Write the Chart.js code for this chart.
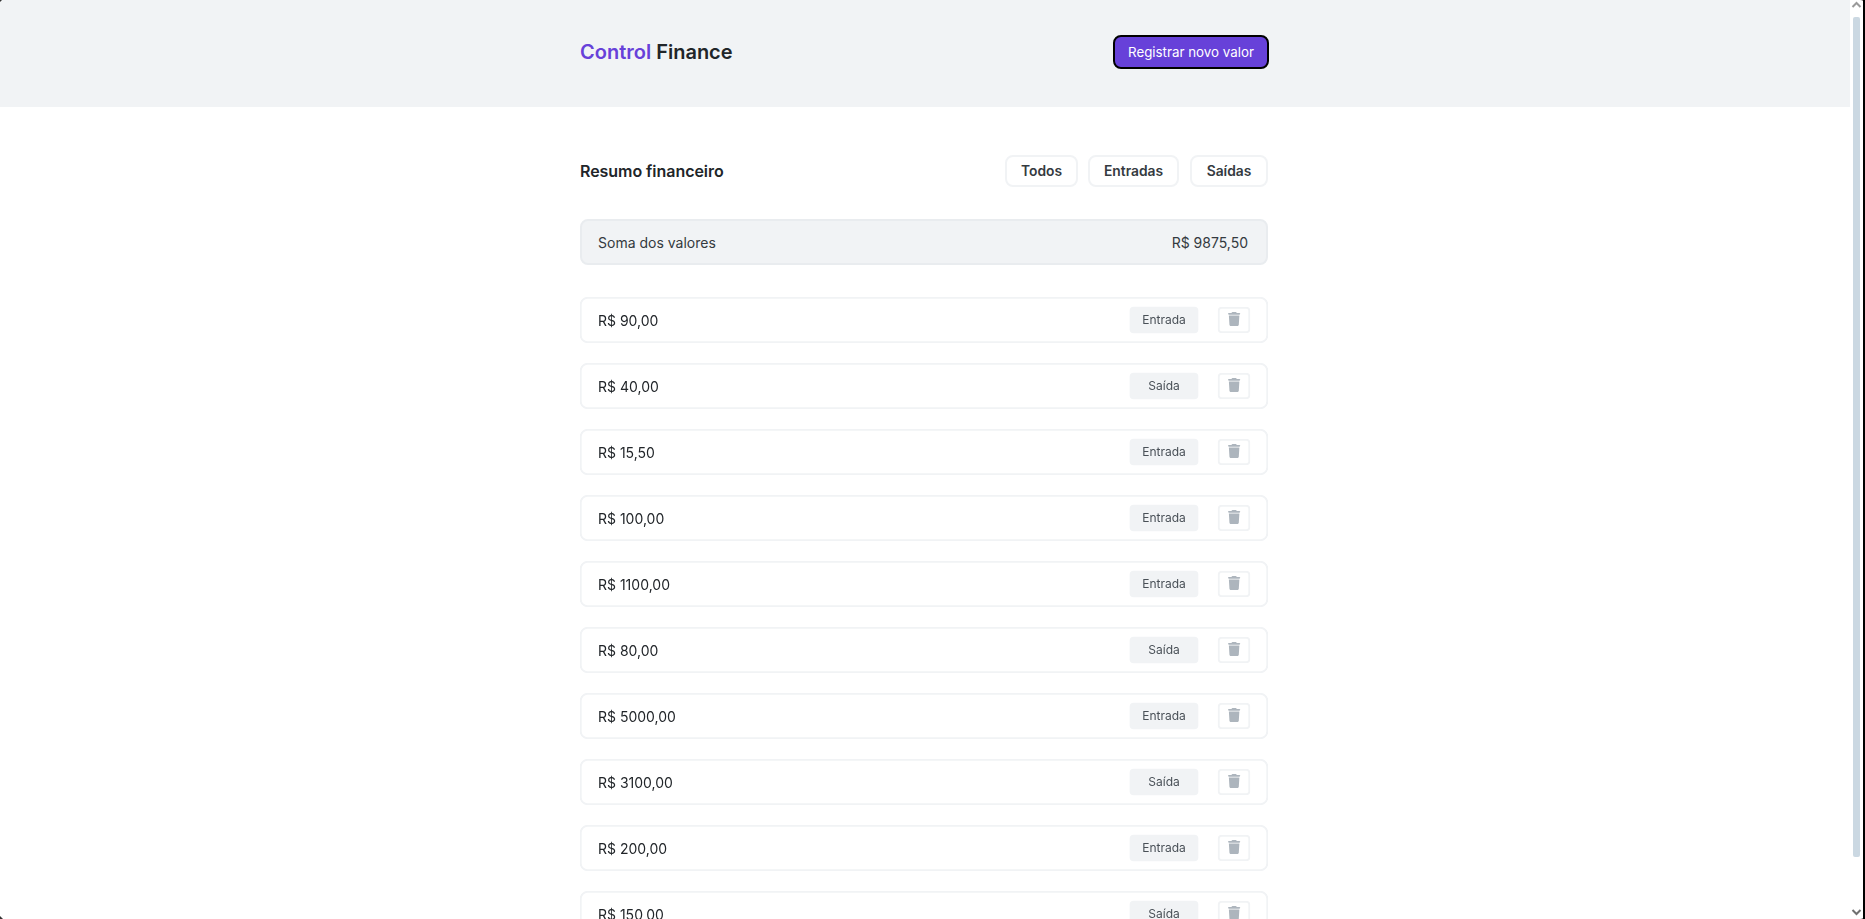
<!DOCTYPE html>
<html lang="pt-BR">
<head>
<meta charset="utf-8">
<title>Control Finance</title>
<script src="https://cdn.jsdelivr.net/npm/chart.js@4"></script>
<style>
  * { box-sizing: border-box; margin: 0; padding: 0; }
  html, body { width: 1865px; height: 919px; overflow: hidden; background: #fff; font-family: Inter, sans-serif; color: #212529; }
  .abs { position: absolute; }
  header { position: absolute; left: 0; top: 0; width: 1850px; height: 107px; background: #f1f3f5; }
  .logo { left: 580px; top: 40px; font-size: 20px; font-weight: 600; line-height: 24px; }
  .logo span { color: #6741d9; }
  .new { left: 1113px; top: 35px; width: 156px; height: 34px; background: #6741d9; border: 2px solid #000; border-radius: 8px; color: #fff; font: 400 13.33px Inter, sans-serif; }
  h2 { left: 580px; top: 161px; font-size: 16px; font-weight: 600; line-height: 20px; color: #212529; letter-spacing: -0.05px; }
  .filter { top: 155px; height: 32px; background: #fff; border: 2px solid #f1f3f5; border-radius: 8px; color: #343a40; font: 600 13.8px Inter, sans-serif; }
  .total { left: 580px; top: 219px; width: 688px; height: 46px; background: #f1f3f5; border: 2px solid #e9ecef; border-radius: 8px; display: flex; justify-content: space-between; align-items: center; padding: 0 18px 0 16px; font-size: 14px; color: #343a40; }
  #list { position: absolute; left: 580px; top: 287px; }
  .track { left: 1850px; top: 0; width: 13px; height: 919px; background: #fff; }
  .thumb { left: 1853px; top: 17px; width: 7px; height: 840px; background: #cbd8e2; border-radius: 2px; }
  .edge { left: 1863px; top: 0; width: 2px; height: 919px; background: #000; }
</style>
</head>
<body>
<header></header>
<div class="abs logo"><span>Control</span> Finance</div>
<button class="abs new">Registrar novo valor</button>
<h2 class="abs">Resumo financeiro</h2>
<button class="abs filter" style="left:1005px;width:73px">Todos</button>
<button class="abs filter" style="left:1088px;width:91px">Entradas</button>
<button class="abs filter" style="left:1190px;width:78px">Saídas</button>
<div class="abs total"><span>Soma dos valores</span><span id="total"></span></div>
<canvas id="list" width="688" height="660"></canvas>
<div class="abs track"></div>
<div class="abs thumb"></div>
<svg class="abs" style="left:1851px;top:0" width="11" height="10"><path d="M1.5 7 L5.5 3 L9.5 7" fill="none" stroke="#9a9a9a" stroke-width="2"/></svg>
<svg class="abs" style="left:1851px;top:907px" width="11" height="10"><path d="M1.5 3 L5.5 7 L9.5 3" fill="none" stroke="#707070" stroke-width="2"/></svg>
<div class="abs edge"></div>
<svg class="abs" style="left:1860px;top:0" width="5" height="5"><path d="M0 0 H5 V5 Q5 0 0 0 Z" fill="#000"/></svg>
<svg class="abs" style="left:1860px;top:914px" width="5" height="5"><path d="M0 5 H5 V0 Q5 5 0 5 Z" fill="#000"/></svg>
<svg class="abs" style="left:0;top:0" width="2" height="2"><path d="M0 0 H2 L0 2 Z" fill="#333"/></svg>
<svg class="abs" style="left:0;top:916px" width="3" height="3"><path d="M0 0 L3 3 H0 Z" fill="#333"/></svg>
<script>
// Data
const amounts = [90, 40, 15.5, 100, 1100, 80, 5000, 3100, 200, 150];
const entryTypes = ['Entrada', 'Saída', 'Entrada', 'Entrada', 'Entrada', 'Saída', 'Entrada', 'Saída', 'Entrada', 'Saída'];

// Columns of the row, on the x axis (canvas is as wide as the row)
const ROW_WIDTH = 688;
const BADGE_COLUMN = [550, 618];
const TRASH_COLUMN = [638, 670];
const TRASH_PATH = new Path2D('M135.2 17.7L128 32H32C14.3 32 0 46.3 0 64S14.3 96 32 96H416c17.7 0 32-14.3 32-32s-14.3-32-32-32H320l-7.2-14.3C307.4 6.8 296.3 0 284.2 0H163.8c-12.1 0-23.2 6.8-28.6 17.7zM416 128H32L53.2 467c1.6 25.3 22.6 45 47.9 45H346.9c25.3 0 46.3-19.7 47.9-45L416 128z');

function formatMoney(value) {
  return 'R$ ' + value.toFixed(2).replace('.', ',');
}

document.getElementById('total').textContent = formatMoney(amounts.reduce((sum, value) => sum + value, 0));

// Writes the entry type on its badge and the icon on its button
const rowContents = {
  id: 'rowContents',
  afterDatasetsDraw(chart) {
    const ctx = chart.ctx;
    const badges = chart.getDatasetMeta(1).data;
    const buttons = chart.getDatasetMeta(2).data;
    ctx.save();
    ctx.font = '400 12px Inter, sans-serif';
    ctx.fillStyle = '#495057';
    ctx.textAlign = 'center';
    ctx.textBaseline = 'middle';
    badges.forEach((bar, i) => {
      ctx.fillText(entryTypes[i], (bar.x + bar.base) / 2, bar.y + 0.5);
    });
    ctx.fillStyle = '#adb5bd';
    buttons.forEach(bar => {
      ctx.save();
      ctx.translate((bar.x + bar.base) / 2 - 6, bar.y - 8);
      ctx.scale(14 / 512, 14 / 512);
      ctx.fill(TRASH_PATH);
      ctx.restore();
    });
    ctx.restore();
  }
};

new Chart(document.getElementById('list'), {
  type: 'bar',
  plugins: [rowContents],
  data: {
    // empty first line with a tiny line height nudges the text down to the row's middle
    labels: amounts.map(value => ['', formatMoney(value)]),
    datasets: [
      {
        data: amounts.map(() => [0, ROW_WIDTH]),
        barThickness: 46,
        backgroundColor: '#ffffff',
        borderColor: '#f1f3f5',
        borderWidth: 2,
        borderRadius: 8,
        borderSkipped: false,
        order: 3
      },
      {
        data: amounts.map(() => BADGE_COLUMN),
        barThickness: 26,
        backgroundColor: '#f1f3f5',
        borderRadius: 4,
        borderSkipped: false,
        order: 2
      },
      {
        data: amounts.map(() => TRASH_COLUMN),
        barThickness: 26,
        backgroundColor: '#ffffff',
        borderColor: '#f1f3f5',
        borderWidth: 2,
        borderRadius: 4,
        borderSkipped: false,
        order: 1
      }
    ]
  },
  options: {
    indexAxis: 'y',
    responsive: false,
    animation: false,
    layout: { padding: 0 },
    datasets: { bar: { grouped: false } },
    plugins: { legend: { display: false }, tooltip: { enabled: false } },
    scales: {
      x: { display: false, min: 0, max: ROW_WIDTH },
      y: {
        grid: { display: false, drawTicks: false },
        border: { display: false },
        ticks: {
          z: 1,
          mirror: true,
          padding: 18,
          autoSkip: false,
          color: '#212529',
          font: { family: 'Inter, sans-serif', size: 14, weight: '400', lineHeight: 0.2 }
        },
        // mirrored labels sit inside the bars, so the axis takes no room
        afterFit(scale) {
          scale.width = 0;
          scale.paddingTop = 0;
          scale.paddingBottom = 0;
          scale.paddingLeft = 0;
          scale.paddingRight = 0;
        }
      }
    }
  }
});
</script>
</body>
</html>
